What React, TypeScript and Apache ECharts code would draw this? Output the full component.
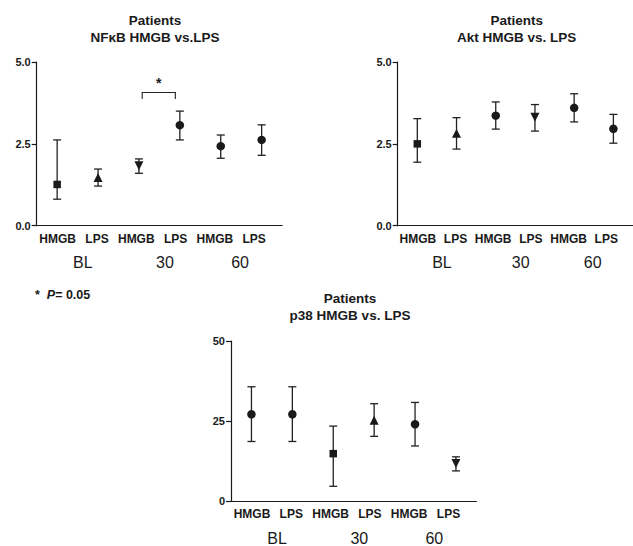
import React, { useEffect, useRef } from "react";
import * as echarts from "echarts";

// ---- data ----
const categories = ["HMGB", "LPS", "HMGB", "LPS", "HMGB", "LPS"];
const groups = ["BL", "30", "60"];
const groupPos = [0.64, 2.73, 4.64];

const nfkbMean = [1.26, 1.47, 1.83, 3.07, 2.43, 2.62];
const nfkbLow = [0.81, 1.21, 1.6, 2.62, 2.06, 2.15];
const nfkbHigh = [2.62, 1.73, 2.04, 3.5, 2.77, 3.08];
const nfkbSymbols = ["rect", "up", "down", "circle", "circle", "circle"];

const aktMean = [2.5, 2.82, 3.36, 3.31, 3.6, 2.96];
const aktLow = [1.94, 2.34, 2.95, 2.89, 3.17, 2.52];
const aktHigh = [3.27, 3.3, 3.78, 3.7, 4.03, 3.4];
const aktSymbols = ["rect", "up", "circle", "down", "circle", "circle"];

const p38Mean = [27.1, 27.1, 14.8, 25.2, 24.0, 11.7];
const p38Low = [18.6, 18.6, 4.6, 20.2, 17.2, 9.4];
const p38High = [35.7, 35.7, 23.4, 30.4, 30.8, 13.8];
const p38Symbols = ["circle", "circle", "rect", "up", "circle", "down"];

// significance bracket (NFkB, 30 min HMGB vs LPS)
const sigFrom = 2.08;
const sigTo = 2.89;
const sigY = 4.07;
const sigLeg = 0.2;
const sigLabel = "*";

const titles = [
  "Patients\nNFκB HMGB vs.LPS",
  "Patients\nAkt HMGB vs. LPS",
  "Patients\np38 HMGB vs. LPS",
];

const FONT = "'Liberation Sans', Arial, sans-serif";
const INK = "#1a1a1a";

function symbolItem(x: number, y: number, s: string) {
  if (s === "rect") return { value: [x, y], symbol: "rect", symbolSize: 7.5 };
  if (s === "up") return { value: [x, y], symbol: "triangle", symbolSize: 9 };
  if (s === "down")
    return { value: [x, y], symbol: "triangle", symbolSize: 9, symbolRotate: 180 };
  return { value: [x, y], symbol: "circle", symbolSize: 8.5 };
}

export default function App() {
  const ref = useRef<HTMLDivElement>(null);
  useEffect(() => {
    if (!ref.current) return;
    const chart = echarts.init(ref.current, null, { renderer: "svg" });

    const panels = [
      { mean: nfkbMean, low: nfkbLow, high: nfkbHigh, sym: nfkbSymbols, max: 5, step: 2.5, dec: 1 },
      { mean: aktMean, low: aktLow, high: aktHigh, sym: aktSymbols, max: 5, step: 2.5, dec: 1 },
      { mean: p38Mean, low: p38Low, high: p38High, sym: p38Symbols, max: 50, step: 25, dec: 0 },
    ];
    const grids = [
      { left: 36.7, top: 62, width: 245.4, height: 163.7 },
      { left: 397.7, top: 62, width: 245.4, height: 163.7 },
      { left: 231, top: 341, width: 245.4, height: 163 },
    ];
    const titleCenters = [
      { x: 155, y: 12 },
      { x: 516.7, y: 12 },
      { x: 350, y: 290 },
    ];

    const xAxes: any[] = [];
    const yAxes: any[] = [];
    const series: any[] = [];

    panels.forEach((p, g) => {
      xAxes.push({
        type: "value",
        gridIndex: g,
        min: -0.5,
        max: 5.5,
        axisLine: { show: true, onZero: false, lineStyle: { color: INK, width: 1.2 } },
        axisTick: { show: false },
        axisLabel: { show: false },
        splitLine: { show: false },
      });
      xAxes.push({
        type: "value",
        gridIndex: g,
        min: -0.534,
        max: 5.71,
        position: "bottom",
        axisLine: { show: false, onZero: false },
        axisTick: { show: false },
        splitLine: { show: false },
        axisLabel: {
          customValues: [0, 1, 2, 3, 4, 5],
          formatter: (v: number) => categories[Math.round(v)] ?? "",
          margin: 7,
          fontFamily: FONT,
          fontWeight: "bold",
          fontSize: 12,
          color: INK,
        },
      });
      xAxes.push({
        type: "value",
        gridIndex: g,
        min: -0.534,
        max: 5.71,
        position: "bottom",
        axisLine: { show: false, onZero: false },
        axisTick: { show: false },
        splitLine: { show: false },
        axisLabel: {
          customValues: groupPos,
          formatter: (v: number) => {
            const i = groupPos.findIndex((q) => Math.abs(q - v) < 1e-6);
            return i >= 0 ? groups[i] : "";
          },
          margin: 29,
          fontFamily: FONT,
          fontSize: 16,
          color: INK,
        },
      });
      yAxes.push({
        type: "value",
        gridIndex: g,
        min: 0,
        max: p.max,
        interval: p.step,
        axisLine: { show: true, onZero: false, lineStyle: { color: INK, width: 1.2 } },
        axisTick: { show: true, length: 5, lineStyle: { color: INK, width: 1.2 } },
        splitLine: { show: false },
        axisLabel: {
          margin: 6,
          fontFamily: FONT,
          fontWeight: "bold",
          fontSize: 11,
          color: INK,
          formatter: (v: number) => v.toFixed(p.dec),
        },
      });

      series.push({
        type: "custom",
        xAxisIndex: 3 * g,
        yAxisIndex: g,
        encode: { x: 0, y: [1, 2] },
        itemStyle: { color: "#222" },
        data: p.mean.map((_, i) => [i, p.low[i], p.high[i]]),
        renderItem: (params: any, api: any) => {
          const x = api.value(0);
          const top = api.coord([x, api.value(2)]);
          const bot = api.coord([x, api.value(1)]);
          const st = { stroke: "#222", lineWidth: 1.3 };
          const hw = 4;
          return {
            type: "group",
            children: [
              { type: "line", shape: { x1: top[0], y1: top[1], x2: bot[0], y2: bot[1] }, style: st },
              { type: "line", shape: { x1: top[0] - hw, y1: top[1], x2: top[0] + hw, y2: top[1] }, style: st },
              { type: "line", shape: { x1: bot[0] - hw, y1: bot[1], x2: bot[0] + hw, y2: bot[1] }, style: st },
            ],
          };
        },
        z: 2,
      });
      series.push({
        type: "scatter",
        xAxisIndex: 3 * g,
        yAxisIndex: g,
        itemStyle: { color: INK, opacity: 1 },
        data: p.mean.map((m, i) => symbolItem(i, m, p.sym[i])),
        z: 3,
      });
    });

    series.push({
      type: "custom",
      xAxisIndex: 0,
      yAxisIndex: 0,
      itemStyle: { color: INK },
      data: [[sigFrom, sigTo, sigY]],
      renderItem: (params: any, api: any) => {
        const a = api.coord([api.value(0), api.value(2)]);
        const b = api.coord([api.value(1), api.value(2)]);
        const legB = api.coord([api.value(0), api.value(2) - sigLeg]);
        const mid = api.coord([(api.value(0) + api.value(1)) / 2, api.value(2)]);
        return {
          type: "group",
          children: [
            {
              type: "polyline",
              shape: { points: [[a[0], legB[1]], a, b, [b[0], legB[1]]] },
              style: { stroke: "#222", lineWidth: 1.1, fill: null },
            },
            {
              type: "text",
              x: mid[0],
              y: mid[1] - 2,
              style: {
                text: sigLabel,
                font: "bold 14px " + FONT,
                fill: INK,
                align: "center",
                verticalAlign: "bottom",
              },
            },
          ],
        };
      },
    });

    chart.setOption({
      animation: false,
      backgroundColor: "#ffffff",
      title: titles.map((t, i) => ({
        text: t,
        left: titleCenters[i].x,
        top: titleCenters[i].y,
        textAlign: "center",
        padding: 0,
        textStyle: {
          fontFamily: FONT,
          fontWeight: "bold",
          fontSize: 13.5,
          lineHeight: 17,
          color: INK,
        },
      })),
      grid: grids.map((g) => ({ ...g, containLabel: false })),
      xAxis: xAxes,
      yAxis: yAxes,
      series,
      graphic: [
        {
          type: "text",
          left: 35,
          top: 288,
          style: {
            text: "{a|*  }{b|P}{a|= 0.05}",
            rich: {
              a: { fontFamily: FONT, fontWeight: "bold", fontSize: 12.5, fill: INK },
              b: { fontFamily: FONT, fontWeight: "bold", fontStyle: "italic", fontSize: 12.5, fill: INK },
            },
          },
        },
      ],
    });
    return () => chart.dispose();
  }, []);
  return (
    <div
      ref={ref}
      style={{ position: "absolute", left: 0, top: 0, width: 633, height: 546 }}
    />
  );
}
